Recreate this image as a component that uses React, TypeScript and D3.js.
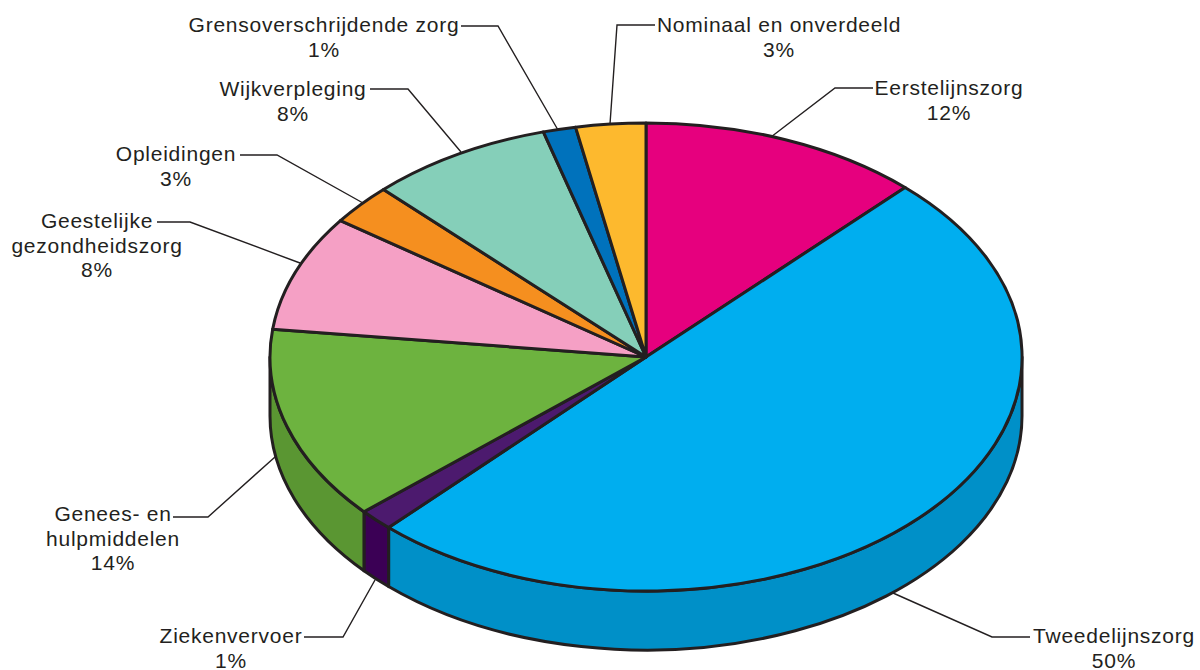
import * as d3 from 'd3'

const CATEGORIES = [
  'Eerstelijnszorg', 'Tweedelijnszorg', 'Ziekenvervoer', 'Genees- en hulpmiddelen',
  'Geestelijke gezondheidszorg', 'Opleidingen', 'Wijkverpleging', 'Grensoverschrijdende zorg',
  'Nominaal en onverdeeld',
]
// shares as measured from the slice boundaries
const SHARES = [12.1, 49.9, 1.5, 13.4, 8.0, 2.8, 7.9, 1.4, 3.0]
const PERCENT_LABELS = ['12%', '50%', '1%', '14%', '8%', '3%', '8%', '1%', '3%']
const TOP_COLORS = ['#e6007e', '#00aeef', '#4c1a6e', '#6db33f', '#f5a0c5', '#f58f1f', '#85cfb9', '#0072bc', '#fdb92e']
const SIDE_COLORS = ['#b80065', '#0090c8', '#3b0055', '#5a9632', '#c580a0', '#c47218', '#6aa694', '#005b96', '#ca9425']

// label text lines: [centre x, first baseline]
const LABEL_LINES = [
  ['Eerstelijnszorg', '12%'],
  ['Tweedelijnszorg', '50%'],
  ['Ziekenvervoer', '1%'],
  ['Genees- en', 'hulpmiddelen', '14%'],
  ['Geestelijke', 'gezondheidszorg', '8%'],
  ['Opleidingen', '3%'],
  ['Wijkverpleging', '8%'],
  ['Grensoverschrijdende zorg', '1%'],
  ['Nominaal en onverdeeld', '3%'],
]
const LABEL_X = [949, 1114, 231, 113, 97, 176, 293, 324, 779]
const LABEL_Y = [95, 643, 643, 521, 228, 161, 96, 32, 32]
const LEADERS: [number, number][][] = [
  [[873, 88], [835, 88], [771, 137]],
  [[1030, 637], [992, 637], [893, 593]],
  [[304, 637], [343, 637], [375, 580]],
  [[173, 517], [208, 517], [275, 457]],
  [[157, 222], [190, 222], [300, 263]],
  [[240, 155], [277, 155], [363, 203]],
  [[370, 89], [408, 89], [461, 152]],
  [[461, 26], [498, 26], [558, 130]],
  [[655, 25], [617, 25], [610, 124]],
]

const WIDTH = 1200
const HEIGHT = 670
const CX = 646
const CY = 357
const RX = 376
const RY = 234
const DEPTH = 59
const INK = '#231f20'
const FONT = '"Liberation Sans", Arial, sans-serif'

export default function App() {
  const slices = d3.pie<number>().sort(null)(SHARES)
  const arc = d3.arc<d3.PieArcDatum<number>>().innerRadius(0).outerRadius(RX)
  const leader = d3.line()

  // outer wall of a slice: only the part facing the viewer (90deg..270deg)
  const wall = (s: d3.PieArcDatum<number>) => {
    const a0 = Math.max(s.startAngle, Math.PI / 2)
    const a1 = Math.min(s.endAngle, (3 * Math.PI) / 2)
    if (a1 <= a0) return null
    const px = (a: number) => CX + RX * Math.sin(a)
    const py = (a: number) => CY - RY * Math.cos(a)
    return (
      `M${px(a0)},${py(a0)}A${RX},${RY} 0 0 1 ${px(a1)},${py(a1)}` +
      `L${px(a1)},${py(a1) + DEPTH}A${RX},${RY} 0 0 0 ${px(a0)},${py(a0) + DEPTH}Z`
    )
  }

  return (
    <svg
      width={WIDTH}
      height={HEIGHT}
      viewBox={`0 0 ${WIDTH} ${HEIGHT}`}
      style={{ position: 'absolute', left: 0, top: 0, background: '#fff' }}
    >
      <g fill="none" stroke={INK} strokeWidth={1.4}>
        {LEADERS.map((pts, i) => (
          <path key={CATEGORIES[i]} d={leader(pts) ?? ''} />
        ))}
      </g>

      {slices.map((s, i) => {
        const d = wall(s)
        return d ? (
          <path key={i} d={d} fill={SIDE_COLORS[i]} stroke={INK} strokeWidth={3} strokeLinejoin="round" />
        ) : null
      })}

      <g transform={`translate(${CX},${CY}) scale(1,${RY / RX})`}>
        {slices.map((s, i) => (
          <path
            key={i}
            d={arc(s) ?? ''}
            fill={TOP_COLORS[i]}
            stroke={INK}
            strokeWidth={3}
            strokeLinejoin="round"
            vectorEffect="non-scaling-stroke"
          />
        ))}
      </g>

      <g fontFamily={FONT} fontSize={21} letterSpacing={0.75} fill={INK} textAnchor="middle">
        {LABEL_LINES.map((lines, i) => (
          <text key={i} x={LABEL_X[i]} y={LABEL_Y[i]} aria-label={`${CATEGORIES[i]} ${PERCENT_LABELS[i]}`}>
            {lines.map((line, j) => (
              <tspan key={j} x={LABEL_X[i]} dy={j === 0 ? 0 : 24.5}>
                {line}
              </tspan>
            ))}
          </text>
        ))}
      </g>
    </svg>
  )
}
